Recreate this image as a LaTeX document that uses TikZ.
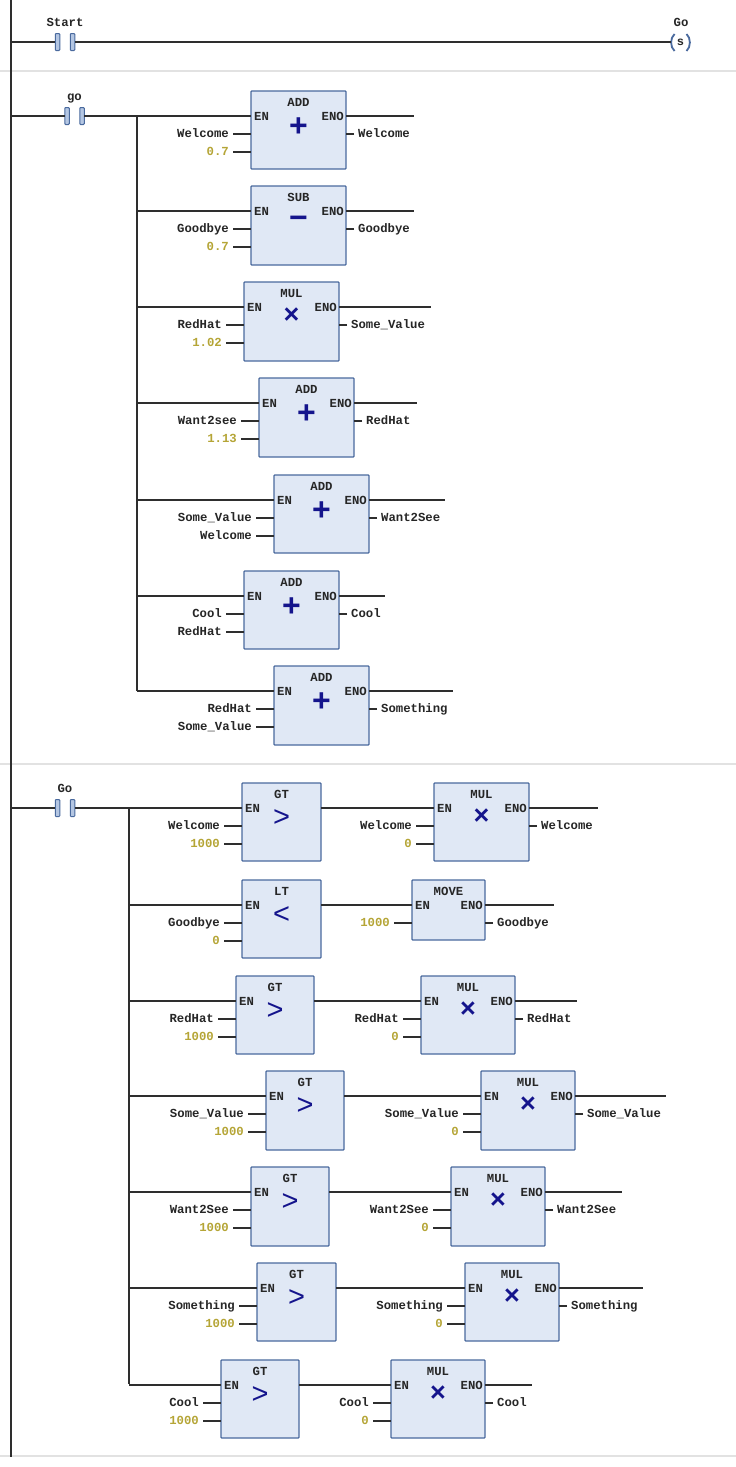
\documentclass[tikz,border=0pt]{standalone}
\usepackage{fontspec}
\setmainfont{Liberation Mono}
\newfontfamily\symfont{Liberation Sans}
\definecolor{wirec}{HTML}{2E2E2E}
\definecolor{boxline}{HTML}{4A6A9E}
\definecolor{boxfill}{HTML}{E0E8F5}
\definecolor{contactfill}{HTML}{B4C6E2}
\definecolor{numc}{HTML}{B5A536}
\definecolor{symc}{HTML}{14148C}
\definecolor{sepc}{HTML}{E2E2E2}
\tikzset{
  wire/.style={draw=wirec,line width=1.2pt},
  sep/.style={draw=sepc,line width=1.4pt},
  fbox/.style={draw=boxline,fill=boxfill,line width=1.2pt,rounded corners=0.8pt,outer sep=0pt,inner sep=0pt,anchor=north west},
  contact/.style={draw=boxline,fill=contactfill,line width=1pt,rounded corners=0.8pt,inner sep=0pt,outer sep=0pt,minimum width=4.5pt,minimum height=17pt},
  coilarc/.style={draw=boxline,line width=1.8pt},
  txt/.style={font=\fontsize{12.3}{13}\selectfont\bfseries,inner sep=0pt,text=black!85,text height=6pt,text depth=0pt},
  lab/.style={txt,inner xsep=4pt},
  numlab/.style={lab,text=numc,font=\fontsize{12.3}{13}\selectfont\bfseries},
  symb/.style={font=\symfont\bfseries\fontsize{32}{32}\selectfont,text=symc,inner sep=0pt,yshift=-1.5pt},
  msym/.style={font=\symfont\bfseries\fontsize{27}{27}\selectfont,text=symc,inner sep=0pt,yshift=1pt},
  gsym/.style={font=\symfont\fontsize{29}{29}\selectfont,text=symc,inner sep=0pt,yshift=-1pt},
  dot/.style={fill=wirec,inner sep=0pt,minimum size=2.6pt}
}
% name, left, top, width, height, title, symbol style, symbol
\newcommand{\fb}[8]{%
  \node[fbox,minimum width=#4pt,minimum height=#5pt] (#1) at (#2,#3) {};
  \node[txt] (#1t) at ([yshift=-12pt]#1.north) {#6};
  \node[#7,anchor=center] (#1s) at ([yshift=-34.5pt]#1.north) {#8};
  \node[txt,anchor=west] (#1e) at ([xshift=3pt,yshift=-26pt]#1.north west) {EN};
  \coordinate (#1in) at ([yshift=-25pt]#1.north west);
  \coordinate (#1ou) at ([yshift=-25pt]#1.north east);
}
\newcommand{\rail}[2]{\draw[wire] (#2 |- #1in) -- (#1in);}
\newcommand{\eno}[2]{%
  \node[txt,anchor=east] (#1o) at ([xshift=-2pt,yshift=-26pt]#1.north east) {ENO};
  \coordinate (#1f) at (#2,0);
  \draw[wire] (#1ou) -- (#1ou -| #1f);
}
\newcommand{\inp}[4]{%
  \node[#4,anchor=east] (#1i#2) at ([xshift=-18pt,yshift=-#2pt]#1.north west) {#3};
  \draw[wire] (#1i#2.east) -- (#1i#2.east -| #1.west);
}
\newcommand{\outp}[2]{%
  \node[lab,anchor=west] (#1r) at ([xshift=8pt,yshift=-43pt]#1.north east) {#2};
  \draw[wire] (#1r.west) -- (#1r.west -| #1.east);
}
\newcommand{\ct}[5]{%
  \node[contact] (#1a) at (#2-7.5,#3) {};
  \node[contact] (#1b) at (#2+7.5,#3) {};
  \node[txt] (#1l) at (#2,#3-18.5) {#4};
  \draw[wire] (#5 |- #1a) -- (#1a.west);
}
\begin{document}
\begin{tikzpicture}[x=1pt,y=-1pt]
\useasboundingbox[fill=white] (0,0) rectangle (736,1467);
\draw[sep] (0,71) -- (736,71);
\draw[sep] (0,764) -- (736,764);
\draw[sep] (0,1456) -- (736,1456);
\coordinate (railtop) at (11,0);
\coordinate (railbot) at (11,1457);
\draw[wire] (railtop) -- (railbot);
% rung 1
\ct{c1}{65}{42}{Start}{railtop}
\node[txt] (goL) at (681,23.5) {Go};
\node[font=\fontsize{12}{12}\selectfont\bfseries,text=black!85,inner sep=0pt] (coil) at (680.5,42) {s};
\draw[coilarc] (674.5,34) .. controls (670,38) and (670,47) .. (674.5,51);
\draw[coilarc] (686.5,34) .. controls (691,38) and (691,47) .. (686.5,51);
\coordinate (coilw) at (671,42);
\draw[wire] (c1b.east) -- (c1b.east -| coilw);
% rung 2
\ct{c2}{74.5}{116}{go}{railtop}
\coordinate (r2) at (137,116);
\coordinate (r2b) at (137,691);
\draw[wire] (c2b.east) -- (c2b.east -| r2);
\draw[wire] (r2) -- (r2b);
\node[dot] (j2) at (r2) {};
\fb{a1}{251}{91}{95}{78}{ADD}{symb}{+}\rail{a1}{r2}
\eno{a1}{414}\inp{a1}{43}{Welcome}{lab}\inp{a1}{61}{0.7}{numlab}\outp{a1}{Welcome}
\fb{a2}{251}{186}{95}{79}{SUB}{symb}{−}\rail{a2}{r2}
\eno{a2}{414}\inp{a2}{43}{Goodbye}{lab}\inp{a2}{61}{0.7}{numlab}\outp{a2}{Goodbye}
\fb{a3}{244}{282}{95}{79}{MUL}{msym}{×}\rail{a3}{r2}
\eno{a3}{431}\inp{a3}{43}{RedHat}{lab}\inp{a3}{61}{1.02}{numlab}\outp{a3}{Some\_Value}
\fb{a4}{259}{378}{95}{79}{ADD}{symb}{+}\rail{a4}{r2}
\eno{a4}{417}\inp{a4}{43}{Want2see}{lab}\inp{a4}{61}{1.13}{numlab}\outp{a4}{RedHat}
\fb{a5}{274}{475}{95}{78}{ADD}{symb}{+}\rail{a5}{r2}
\eno{a5}{445}\inp{a5}{43}{Some\_Value}{lab}\inp{a5}{61}{Welcome}{lab}\outp{a5}{Want2See}
\fb{a6}{244}{571}{95}{78}{ADD}{symb}{+}\rail{a6}{r2}
\eno{a6}{385}\inp{a6}{43}{Cool}{lab}\inp{a6}{61}{RedHat}{lab}\outp{a6}{Cool}
\fb{a7}{274}{666}{95}{79}{ADD}{symb}{+}\rail{a7}{r2}
\eno{a7}{453}\inp{a7}{43}{RedHat}{lab}\inp{a7}{61}{Some\_Value}{lab}\outp{a7}{Something}
% rung 3
\ct{c3}{65}{808}{Go}{railtop}
\coordinate (r3) at (129,808);
\coordinate (r3b) at (129,1384);
\draw[wire] (c3b.east) -- (c3b.east -| r3);
\draw[wire] (r3) -- (r3b);
\node[dot] (j3) at (r3) {};
\fb{g1}{242}{783}{79}{78}{GT}{gsym}{>}\rail{g1}{r3}
\inp{g1}{43}{Welcome}{lab}\inp{g1}{61}{1000}{numlab}
\fb{m1}{434}{783}{95}{78}{MUL}{msym}{×}
\eno{m1}{598}\inp{m1}{43}{Welcome}{lab}\inp{m1}{61}{0}{numlab}\outp{m1}{Welcome}
\draw[wire] (g1ou) -- (m1in);
\fb{g2}{242}{880}{79}{78}{LT}{gsym}{<}\rail{g2}{r3}
\inp{g2}{43}{Goodbye}{lab}\inp{g2}{61}{0}{numlab}
\node[fbox,minimum width=73pt,minimum height=60pt] (m2) at (412,880) {};
\node[txt] (m2t) at ([yshift=-12pt]m2.north) {MOVE};
\node[txt,anchor=west] (m2e) at ([xshift=3pt,yshift=-26pt]m2.north west) {EN};
\coordinate (m2in) at ([yshift=-25pt]m2.north west);
\coordinate (m2ou) at ([yshift=-25pt]m2.north east);
\eno{m2}{554}\inp{m2}{43}{1000}{numlab}\outp{m2}{Goodbye}
\draw[wire] (g2ou) -- (m2in);
\fb{g3}{236}{976}{78}{78}{GT}{gsym}{>}\rail{g3}{r3}
\inp{g3}{43}{RedHat}{lab}\inp{g3}{61}{1000}{numlab}
\fb{m3}{421}{976}{94}{78}{MUL}{msym}{×}
\eno{m3}{577}\inp{m3}{43}{RedHat}{lab}\inp{m3}{61}{0}{numlab}\outp{m3}{RedHat}
\draw[wire] (g3ou) -- (m3in);
\fb{g4}{266}{1071}{78}{79}{GT}{gsym}{>}\rail{g4}{r3}
\inp{g4}{43}{Some\_Value}{lab}\inp{g4}{61}{1000}{numlab}
\fb{m4}{481}{1071}{94}{79}{MUL}{msym}{×}
\eno{m4}{666}\inp{m4}{43}{Some\_Value}{lab}\inp{m4}{61}{0}{numlab}\outp{m4}{Some\_Value}
\draw[wire] (g4ou) -- (m4in);
\fb{g5}{251}{1167}{78}{79}{GT}{gsym}{>}\rail{g5}{r3}
\inp{g5}{43}{Want2See}{lab}\inp{g5}{61}{1000}{numlab}
\fb{m5}{451}{1167}{94}{79}{MUL}{msym}{×}
\eno{m5}{622}\inp{m5}{43}{Want2See}{lab}\inp{m5}{61}{0}{numlab}\outp{m5}{Want2See}
\draw[wire] (g5ou) -- (m5in);
\fb{g6}{257}{1263}{79}{78}{GT}{gsym}{>}\rail{g6}{r3}
\inp{g6}{43}{Something}{lab}\inp{g6}{61}{1000}{numlab}
\fb{m6}{465}{1263}{94}{78}{MUL}{msym}{×}
\eno{m6}{643}\inp{m6}{43}{Something}{lab}\inp{m6}{61}{0}{numlab}\outp{m6}{Something}
\draw[wire] (g6ou) -- (m6in);
\fb{g7}{221}{1360}{78}{78}{GT}{gsym}{>}\rail{g7}{r3}
\inp{g7}{43}{Cool}{lab}\inp{g7}{61}{1000}{numlab}
\fb{m7}{391}{1360}{94}{78}{MUL}{msym}{×}
\eno{m7}{532}\inp{m7}{43}{Cool}{lab}\inp{m7}{61}{0}{numlab}\outp{m7}{Cool}
\draw[wire] (g7ou) -- (m7in);
\end{tikzpicture}
\end{document}
